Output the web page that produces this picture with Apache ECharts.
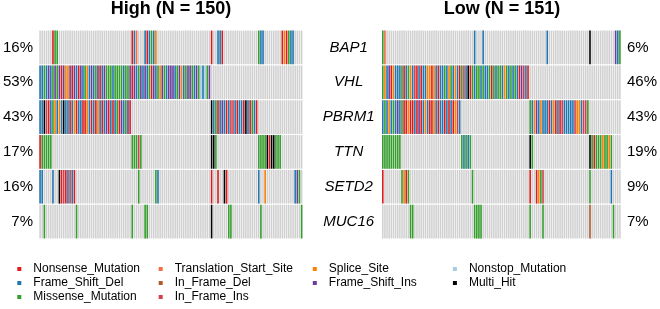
<!DOCTYPE html>
<html>
<head>
<meta charset="utf-8">
<script src="https://cdn.jsdelivr.net/npm/echarts@6/dist/echarts.min.js"></script>
<style>
  html, body { margin: 0; padding: 0; background: #fff; }
  #chart { width: 660px; height: 309px; }
</style>
</head>
<body>
<div id="chart"></div>
<script>
// genes (rows) and the two cohorts
const genes = ['BAP1', 'VHL', 'PBRM1', 'TTN', 'SETD2', 'MUC16'];
const highTitle = 'High (N = 150)';
const lowTitle = 'Low (N = 151)';
const highN = 123; // samples drawn (mutated in at least one gene)
const lowN = 112;
const highPct = ['16%', '53%', '43%', '17%', '16%', '7%'];
const lowPct = ['6%', '46%', '43%', '19%', '9%', '7%'];

// mutation types, codes and colours (legend is column-major)
const mutTypes = ['Nonsense_Mutation', 'Frame_Shift_Del', 'Missense_Mutation',
  'Translation_Start_Site', 'In_Frame_Del', 'In_Frame_Ins',
  'Splice_Site', 'Frame_Shift_Ins', 'Nonstop_Mutation', 'Multi_Hit'];
const mutCodes = ['N', 'F', 'M', 'T', 'D', 'I', 'S', 'P', 'O', 'X'];
const mutColors = ['#E31A1C', '#1F78B4', '#33A02C', '#F46D43', '#B15928', '#D53E4F',
  '#FF7F00', '#6A3D9A', '#A6CEE3', '#000000'];

// runs of samples per gene, 'startColumn:codes'
const highBAP1 = ['6:NMM', '43:NFT', '49:FNFMFS', '80:N', '83:FFN', '102:MFF', '113:NSNMFF'];
const highVHL = ['0:FFMFPFMPMP', '10:NPSSPNPFNP', '20:FMSFPFMPNF', '30:PMMMFMMMMF',
  '40:MMPNPFMPFP', '50:FMNPFMSPMF', '60:PPPFMPSFMP', '70:PMFPMOFOMP'];
const highPBRM1 = ['0:FFXINFMSFS', '10:FXFFNFSNFF', '20:NNSFNFNSFN', '30:FPNFNFMNPF', '40:MPN',
  '80:XFMNFPFNFI', '90:IFNFFNXFNM', '100:FN'];
const highTTN = ['0:NMMMMM', '43:MMMIM', '80:XXM', '102:MMMMXNXXMMM'];
const highSETD2 = ['0:FF', '6:F', '9:XNINFIFN', '46:M', '54:MF', '80:N', '83:N', '86:XN',
  '102:F', '105:S', '119:FPM'];
const highMUC16 = ['2:M', '17:M', '43:M', '49:MM', '80:X', '88:MM', '103:M', '122:M'];

const lowBAP1 = ['0:MT', '43:F', '47:F', '77:F', '97:X', '109:PFM'];
const lowVHL = ['0:MSFPNSFFFM', '10:NFMSFINFNF', '20:FSSNSFNFFM', '30:FSMFSFNMIF',
  '40:XNMFMMFMFF', '50:MNMFMMFSMF', '60:MFMFNPIFN'];
const lowPBRM1 = ['0:FMFSFMFPFM', '10:NNSNNFNPNF', '20:SFNNSFNFFN', '30:FNFNSIF',
  '69:MFSPFSFFFN', '79:FSNFNIFFFF', '89:FISSFIIM'];
const lowTTN = ['0:MMMMMMMMM', '37:MFMFM', '69:XM', '97:XMNMMMSMMSM'];
const lowSETD2 = ['0:N', '9:MSNM', '42:M', '69:N', '72:NSMI', '97:M', '107:F'];
const lowMUC16 = ['13:MM', '43:MMMM', '69:M', '75:M', '97:D', '108:M'];

const highRows = [highBAP1, highVHL, highPBRM1, highTTN, highSETD2, highMUC16];
const lowRows = [lowBAP1, lowVHL, lowPBRM1, lowTTN, lowSETD2, lowMUC16];

function expand(runs, n) {
  const row = new Array(n).fill('.');
  runs.forEach(r => {
    const [s, codes] = r.split(':');
    for (let i = 0; i < codes.length; i++) row[+s + i] = codes[i];
  });
  return row;
}

function renderCell(params, api) {
  const c = api.coord([api.value(0), api.value(1)]);
  const s = api.size([1, 1]);
  const w = s[0] - 0.6, h = s[1] - 1.2;
  return {
    type: 'rect',
    shape: {x: c[0] - w / 2, y: c[1] - h / 2, width: w, height: h},
    style: {fill: api.visual('color')}
  };
}

const series = [];
function addPanel(rows, n, gridIndex) {
  const axes = {xAxisIndex: gridIndex, yAxisIndex: gridIndex === 0 ? 0 : 2};
  const bg = [];
  const cells = rows.map(r => expand(r, n));
  cells.forEach((row, gi) => row.forEach((_, ci) => bg.push([ci, gi])));
  series.push(Object.assign({
    type: 'custom', name: 'bg', renderItem: renderCell, data: bg,
    itemStyle: {color: '#D0D0D0'}, encode: {x: 0, y: 1}, silent: true
  }, axes));
  mutCodes.forEach((code, k) => {
    const data = [];
    cells.forEach((row, gi) => row.forEach((v, ci) => { if (v === code) data.push([ci, gi]); }));
    series.push(Object.assign({
      type: 'custom', name: mutTypes[k], renderItem: renderCell, data: data,
      itemStyle: {color: mutColors[k]}, encode: {x: 0, y: 1}
    }, axes));
  });
}
addPanel(highRows, highN, 0);
addPanel(lowRows, lowN, 1);

const hidden = {axisLine: {show: false}, axisTick: {show: false}, splitLine: {show: false}};
const txt = {color: '#000', fontFamily: 'Liberation Sans, Arial, sans-serif'};

const legendCols = [[0, 3, 17.3], [3, 6, 158.7], [6, 8, 312.8], [8, 10, 452.9]];

const option = {
  animation: false,
  backgroundColor: '#fff',
  title: [
    {text: highTitle, left: 171, top: 0, padding: 0, textAlign: 'center',
      textStyle: Object.assign({fontSize: 18, fontWeight: 'bold'}, txt)},
    {text: lowTitle, left: 502, top: 0, padding: 0, textAlign: 'center',
      textStyle: Object.assign({fontSize: 18, fontWeight: 'bold'}, txt)}
  ],
  grid: [
    {left: 39, top: 30, width: 263.7, height: 209},
    {left: 381.7, top: 30, width: 240, height: 209}
  ],
  xAxis: [
    Object.assign({type: 'value', gridIndex: 0, min: -0.5, max: highN - 0.5, axisLabel: {show: false}}, hidden),
    Object.assign({type: 'value', gridIndex: 1, min: -0.5, max: lowN - 0.5, axisLabel: {show: false}}, hidden)
  ],
  yAxis: [
    Object.assign({type: 'category', gridIndex: 0, data: genes, inverse: true, position: 'left',
      axisLabel: Object.assign({fontSize: 15, margin: 6, formatter: (v, i) => highPct[i]}, txt)}, hidden),
    Object.assign({type: 'category', gridIndex: 0, data: genes, inverse: true, position: 'right',
      axisLabel: Object.assign({fontSize: 15, fontStyle: 'italic', margin: 46, align: 'center'}, txt)}, hidden),
    Object.assign({type: 'category', gridIndex: 1, data: genes, inverse: true, position: 'right',
      axisLabel: Object.assign({fontSize: 15, margin: 6, formatter: (v, i) => lowPct[i]}, txt)}, hidden)
  ],
  legend: legendCols.map(([a, b, x]) => ({
    data: mutTypes.slice(a, b),
    orient: 'vertical', left: x, top: 262, padding: 0,
    itemWidth: 4, itemHeight: 4, itemGap: 0, icon: 'rect',
    textStyle: Object.assign({fontSize: 12, lineHeight: 14, padding: [0, 0, 0, 7]}, txt)
  })),
  series: series
};

const chart = echarts.init(document.getElementById('chart'));
chart.setOption(option);
</script>
</body>
</html>
